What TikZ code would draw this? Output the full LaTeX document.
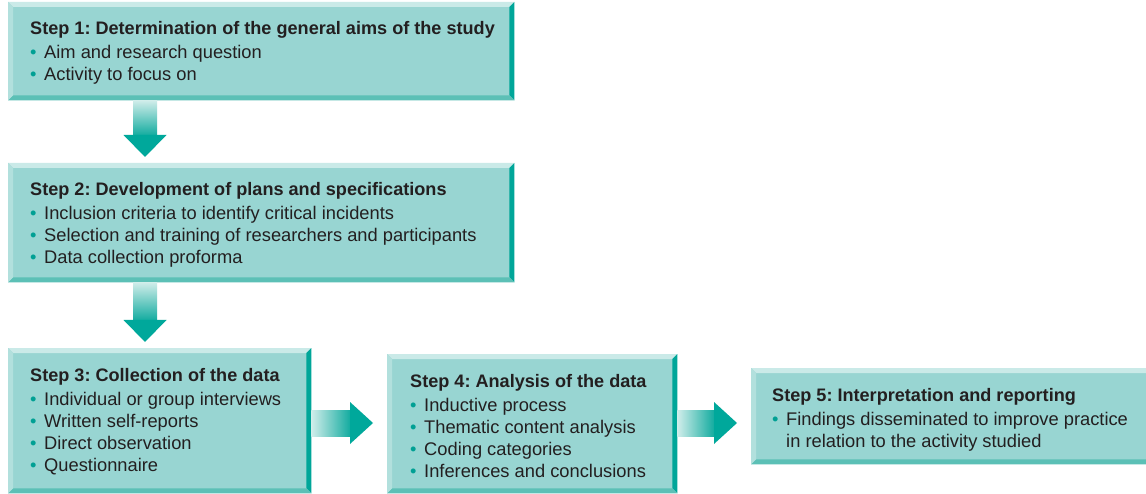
\documentclass[tikz,border=0pt]{standalone}
\usepackage{fontspec}
\setmainfont{Liberation Sans}
\usetikzlibrary{calc}
\definecolor{boxfill}{RGB}{152,213,210}
\definecolor{bevtop}{RGB}{202,234,232}
\definecolor{bevleft}{RGB}{178,224,221}
\definecolor{bevright}{RGB}{0,166,153}
\definecolor{bevbot}{RGB}{92,192,182}
\definecolor{txt}{RGB}{35,31,32}
\definecolor{bul}{RGB}{0,160,148}
\definecolor{shl}{RGB}{208,237,234}
\definecolor{shd}{RGB}{20,172,160}
\definecolor{headc}{RGB}{0,168,155}
\tikzset{
  stepbox/.style={fill=boxfill, anchor=north west, inner sep=0pt, draw=none},
  steptext/.style={anchor=west, inner sep=0pt, align=left, text=txt, font=\fontsize{18.3}{22}\selectfont\frenchspacing},
}
\newcommand\bl{\makebox[14pt][l]{\color{bul}\textbullet}}
\newcommand\ttl[1]{{\fontsize{18.1}{22}\selectfont\bfseries #1}}
\newcommand\bevel[1]{%
  \fill[bevtop] (#1.north west) -- (#1.north east) -- ($(#1.north east)+(-5pt,-5pt)$) -- ($(#1.north west)+(5pt,-5pt)$) -- cycle;
  \fill[bevright] (#1.north east) -- (#1.south east) -- ($(#1.south east)+(-5pt,5pt)$) -- ($(#1.north east)+(-5pt,-5pt)$) -- cycle;
  \fill[bevbot] (#1.south east) -- (#1.south west) -- ($(#1.south west)+(5pt,5pt)$) -- ($(#1.south east)+(-5pt,5pt)$) -- cycle;
  \fill[bevleft] (#1.south west) -- (#1.north west) -- ($(#1.north west)+(5pt,-5pt)$) -- ($(#1.south west)+(5pt,5pt)$) -- cycle;}
\newcommand\darr[3]{%
  \path[shade, top color=shl, bottom color=shd] let \p1=(#1.south), \p2=(#2.north) in ({#3-12pt},{\y1}) rectangle ({#3+12pt},{\y2+28pt});
  \fill[headc] let \p1=(#1.south), \p2=(#2.north) in ({#3-21.5pt},{\y2+28pt}) -- ({#3+21.5pt},{\y2+28pt}) -- ({#3},{\y2+6pt}) -- cycle;}
\newcommand\rarr[3]{%
  \path[shade, left color=shl, right color=shd] let \p1=(#1.east), \p2=(#2.west) in ({\x1},{#3-13pt}) rectangle ({\x2-37pt},{#3+13pt});
  \fill[headc] let \p1=(#1.east), \p2=(#2.west) in ({\x2-37pt},{#3-21pt}) -- ({\x2-37pt},{#3+21pt}) -- ({\x2-14pt},{#3}) -- cycle;}
\begin{document}
\begin{tikzpicture}
\useasboundingbox[fill=white] (0,0) rectangle (1146pt,-494pt);
\node[stepbox, minimum width=506pt, minimum height=98pt] (b1) at (8pt,-2pt) {};
\node[stepbox, minimum width=506pt, minimum height=119pt] (b2) at (8pt,-163pt) {};
\node[stepbox, minimum width=303pt, minimum height=145pt] (b3) at (8pt,-348pt) {};
\node[stepbox, minimum width=290pt, minimum height=139pt] (b4) at (387pt,-354pt) {};
\node[stepbox, minimum width=400pt, minimum height=96pt] (b5) at (751pt,-368pt) {};
\bevel{b1}\bevel{b2}\bevel{b3}\bevel{b4}\bevel{b5}
\node[steptext] (t1) at ($(b1.west)+(22pt,-2pt)$) {\ttl{Step 1: Determination of the general aims of the study}\\[2pt]
\bl Aim and research question\\
\bl Activity to focus on};
\node[steptext] (t2) at ($(b2.west)+(22pt,-2pt)$) {\ttl{Step 2: Development of plans and specifications}\\[2pt]
\bl Inclusion criteria to identify critical incidents\\
\bl Selection and training of researchers and participants\\
\bl Data collection proforma};
\node[steptext] (t3) at ($(b3.west)+(22pt,-1pt)$) {\ttl{Step 3: Collection of the data}\\[2pt]
\bl Individual or group interviews\\
\bl Written self-reports\\
\bl Direct observation\\
\bl Questionnaire};
\node[steptext] (t4) at ($(b4.west)+(23pt,-2pt)$) {\ttl{Step 4: Analysis of the data}\\[2pt]
\bl Inductive process\\
\bl Thematic content analysis\\
\bl Coding categories\\
\bl Inferences and conclusions};
\node[steptext] (t5) at ($(b5.west)+(21pt,-4pt)$) {\ttl{Step 5: Interpretation and reporting}\\[2pt]
\bl Findings disseminated to improve practice\\
\hspace*{14pt}in relation to the activity studied};
\darr{b1}{b2}{145pt}
\darr{b2}{b3}{145pt}
\rarr{b3}{b4}{-423pt}
\rarr{b4}{b5}{-423pt}
\end{tikzpicture}
\end{document}
